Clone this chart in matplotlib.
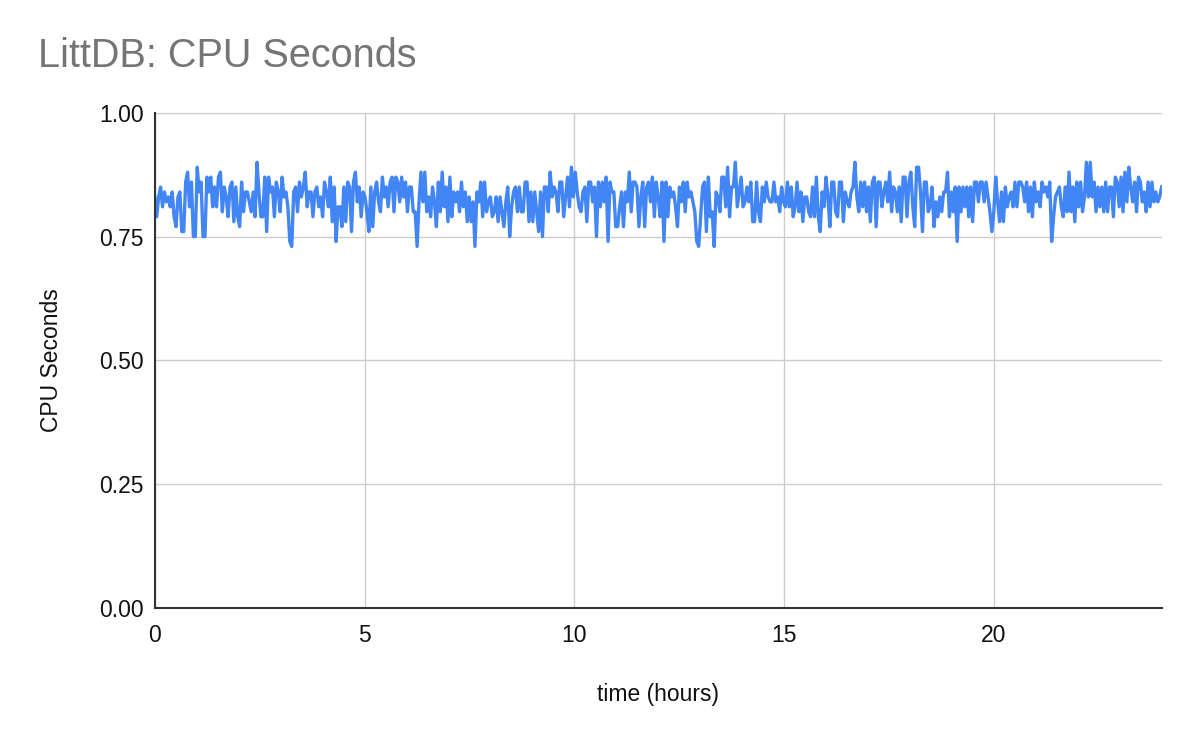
import numpy as np
import matplotlib.pyplot as plt

plt.rcParams['font.family'] = ['Liberation Sans', 'DejaVu Sans']

# CPU seconds left to right (0 .. 24 h)
cpu_a = [0.83, 0.79, 0.83, 0.85, 0.81, 0.84, 0.82, 0.83, 0.81, 0.84, 0.79, 0.77, 0.83, 0.84, 0.76,
         0.76, 0.86, 0.88, 0.81, 0.86, 0.75, 0.75, 0.89, 0.84, 0.86, 0.75, 0.75, 0.87, 0.84, 0.87,
         0.81, 0.85, 0.81, 0.87, 0.88, 0.80, 0.85, 0.83, 0.79, 0.85, 0.86, 0.78, 0.85, 0.79, 0.77,
         0.86, 0.80, 0.84, 0.84, 0.82, 0.80, 0.84, 0.79, 0.90, 0.84, 0.79, 0.79, 0.87, 0.76, 0.87,
         0.84, 0.85, 0.79, 0.86, 0.84, 0.80, 0.87, 0.83, 0.84, 0.81, 0.74, 0.73, 0.84, 0.85, 0.80,
         0.86, 0.83, 0.85, 0.88, 0.81, 0.84, 0.84, 0.79, 0.84, 0.85, 0.81, 0.83, 0.79, 0.86]
cpu_b = [0.84, 0.81, 0.87, 0.78, 0.85, 0.74, 0.81, 0.81, 0.77, 0.85, 0.78, 0.86, 0.85, 0.76, 0.86,
         0.88, 0.82, 0.85, 0.79, 0.84, 0.83, 0.80, 0.76, 0.85, 0.77, 0.84, 0.86, 0.82, 0.80, 0.87,
         0.83, 0.85, 0.81, 0.86, 0.87, 0.80, 0.87, 0.86, 0.82, 0.87, 0.83, 0.86, 0.80, 0.85, 0.85,
         0.80, 0.80, 0.73, 0.82, 0.88, 0.82, 0.88, 0.80, 0.83, 0.79, 0.85, 0.82, 0.77, 0.86, 0.80,
         0.88, 0.81, 0.85, 0.78, 0.87, 0.79, 0.84, 0.82, 0.84, 0.80, 0.86, 0.81, 0.84, 0.78, 0.83,
         0.78, 0.82, 0.73, 0.84, 0.82, 0.86, 0.79, 0.86, 0.80, 0.82, 0.83, 0.79, 0.80, 0.83, 0.78]
cpu_c = [0.83, 0.80, 0.77, 0.82, 0.85, 0.75, 0.81, 0.84, 0.85, 0.80, 0.85, 0.80, 0.80, 0.86, 0.86,
         0.78, 0.84, 0.78, 0.84, 0.80, 0.76, 0.84, 0.75, 0.85, 0.85, 0.80, 0.88, 0.83, 0.85, 0.84,
         0.80, 0.86, 0.86, 0.79, 0.83, 0.87, 0.81, 0.89, 0.83, 0.88, 0.84, 0.81, 0.80, 0.84, 0.85,
         0.78, 0.86, 0.86, 0.82, 0.85, 0.75, 0.86, 0.81, 0.86, 0.82, 0.87, 0.74, 0.86, 0.84, 0.84,
         0.77, 0.77, 0.81, 0.84, 0.77, 0.84, 0.82, 0.88, 0.80, 0.86, 0.86, 0.85, 0.77, 0.83, 0.86,
         0.77, 0.85, 0.86, 0.82, 0.87, 0.79, 0.86, 0.83, 0.79, 0.86, 0.74, 0.86, 0.79, 0.85, 0.83]
cpu_d = [0.84, 0.81, 0.77, 0.85, 0.82, 0.86, 0.80, 0.86, 0.83, 0.84, 0.82, 0.80, 0.74, 0.73, 0.79,
         0.85, 0.86, 0.76, 0.87, 0.79, 0.80, 0.73, 0.84, 0.83, 0.80, 0.87, 0.87, 0.81, 0.89, 0.79,
         0.85, 0.85, 0.90, 0.81, 0.84, 0.87, 0.81, 0.82, 0.85, 0.82, 0.86, 0.78, 0.78, 0.86, 0.80,
         0.78, 0.85, 0.82, 0.86, 0.83, 0.82, 0.82, 0.86, 0.82, 0.83, 0.80, 0.85, 0.82, 0.81, 0.86,
         0.81, 0.85, 0.79, 0.81, 0.86, 0.80, 0.84, 0.78, 0.83, 0.83, 0.80, 0.79, 0.85, 0.79, 0.87,
         0.79, 0.76, 0.84, 0.81, 0.87, 0.83, 0.77, 0.86, 0.86, 0.80]
cpu_e = [0.79, 0.86, 0.86, 0.78, 0.84, 0.82, 0.81, 0.84, 0.85, 0.90, 0.83, 0.80, 0.86, 0.81, 0.86,
         0.80, 0.85, 0.78, 0.86, 0.87, 0.77, 0.86, 0.86, 0.81, 0.84, 0.86, 0.82, 0.88, 0.80, 0.85,
         0.84, 0.80, 0.85, 0.78, 0.87, 0.87, 0.79, 0.86, 0.88, 0.81, 0.77, 0.89, 0.89, 0.84, 0.76,
         0.86, 0.86, 0.80, 0.81, 0.85, 0.77, 0.82, 0.79, 0.83, 0.80, 0.84, 0.84, 0.88, 0.79, 0.84,
         0.80, 0.85, 0.74, 0.85, 0.80, 0.85, 0.81, 0.85, 0.79, 0.85, 0.78, 0.86, 0.86, 0.82, 0.86,
         0.86, 0.82, 0.86, 0.83, 0.80, 0.76, 0.80, 0.87, 0.82, 0.78, 0.84, 0.78, 0.85, 0.81, 0.83]
cpu_f = [0.84, 0.81, 0.86, 0.81, 0.86, 0.86, 0.85, 0.82, 0.86, 0.80, 0.85, 0.79, 0.86, 0.82, 0.84,
         0.81, 0.86, 0.84, 0.85, 0.83, 0.86, 0.74, 0.79, 0.83, 0.84, 0.85, 0.81, 0.79, 0.85, 0.80,
         0.88, 0.80, 0.85, 0.78, 0.86, 0.81, 0.86, 0.80, 0.83, 0.90, 0.83, 0.90, 0.83, 0.86, 0.80,
         0.85, 0.81, 0.85, 0.80, 0.86, 0.80, 0.85, 0.85, 0.79, 0.87, 0.86, 0.81, 0.87, 0.80, 0.88,
         0.82, 0.89, 0.85, 0.82, 0.86, 0.80, 0.87, 0.86, 0.82, 0.84, 0.80, 0.86, 0.81, 0.86, 0.82,
         0.84, 0.82, 0.83, 0.85]

cpu = np.array(cpu_a + cpu_b + cpu_c + cpu_d + cpu_e + cpu_f)
hours = np.linspace(0, 24, len(cpu))

fig = plt.figure(figsize=(12, 7.42), dpi=100)
ax = fig.add_axes([0.129, 0.181, 0.839, 0.667])

ax.plot(hours, cpu, color='#4285F4', linewidth=2.4)

ax.set_xlim(0, 24)
ax.set_ylim(0, 1)
ax.set_xticks([0, 5, 10, 15, 20])
ax.set_yticks([0, 0.25, 0.5, 0.75, 1.0])
ax.set_yticklabels(['0.00', '0.25', '0.50', '0.75', '1.00'])
ax.grid(color='#cccccc', linewidth=1)
ax.set_axisbelow(True)
ax.tick_params(length=0, labelsize=16.5, colors='#111111')
ax.tick_params(axis='y', pad=8)
ax.tick_params(axis='x', pad=12)

for s in ['top', 'right']:
    ax.spines[s].set_visible(False)
ax.spines['left'].set_color('#333333')
ax.spines['bottom'].set_color('#333333')
ax.spines['left'].set_linewidth(1.5)
ax.spines['bottom'].set_linewidth(1.5)

ax.set_xlabel('time (hours)', fontsize=16.5, color='#111111', labelpad=26)
ax.set_ylabel('CPU Seconds', fontsize=16.5, color='#111111', labelpad=26)

fig.text(0.032, 0.925, 'LittDB: CPU Seconds', fontsize=28.5, color='#757575', va='center')

plt.savefig('out.png')
